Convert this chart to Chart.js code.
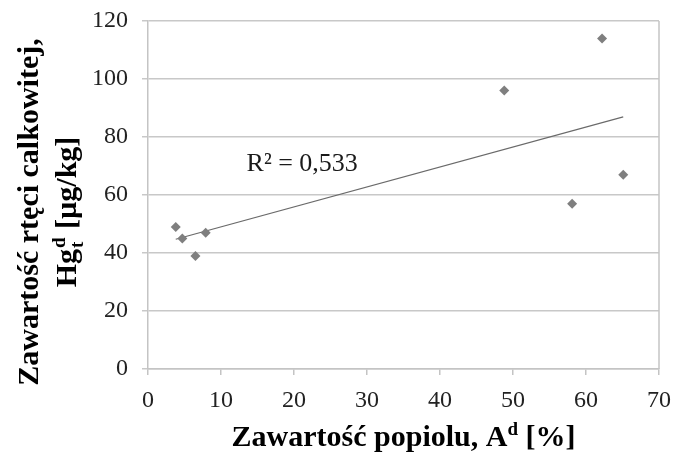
<!DOCTYPE html>
<html>
<head>
<meta charset="utf-8">
<script src="https://cdn.jsdelivr.net/npm/chart.js@4/dist/chart.umd.min.js"></script>
<style>
html,body{margin:0;padding:0;background:#fff;}
#wrap{width:674px;height:452px;position:relative;}
</style>
</head>
<body>
<div id="wrap"><canvas id="c" width="674" height="452"></canvas></div>
<script>
// Data
const ashContent = [3.8, 4.7, 6.5, 7.9, 48.8, 58.1, 62.2, 65.1];   // A^d [%]
const mercuryContent = [49, 45, 39, 47, 96, 57, 114, 67];           // Hg_t^d [µg/kg]
const xTickValues = [0, 10, 20, 30, 40, 50, 60, 70];
const yTickValues = [0, 20, 40, 60, 80, 100, 120];
const r2Label = 'R² = 0,533';
const r2LabelPos = [13.5, 70.8];

// Linear least-squares trendline over the data range
function linReg(xs, ys) {
  const n = xs.length;
  const mx = xs.reduce((a, b) => a + b, 0) / n;
  const my = ys.reduce((a, b) => a + b, 0) / n;
  let sxy = 0, sxx = 0;
  for (let i = 0; i < n; i++) { sxy += (xs[i] - mx) * (ys[i] - my); sxx += (xs[i] - mx) ** 2; }
  const b = sxy / sxx;
  return { b, a: my - b * mx };
}
const reg = linReg(ashContent, mercuryContent);
const xMin = Math.min(...ashContent), xMax = Math.max(...ashContent);
const trend = [{ x: xMin, y: reg.a + reg.b * xMin }, { x: xMax, y: reg.a + reg.b * xMax }];
const points = ashContent.map((x, i) => ({ x, y: mercuryContent[i] }));

const FONT = "'Liberation Serif', 'Times New Roman', serif";

function drawRich(ctx, segs, size, align) {
  const small = Math.round(size * 0.62);
  const wOf = (s) => { ctx.font = 'bold ' + (s.sub || s.sup ? small : size) + 'px ' + FONT; return ctx.measureText(s.t).width; };
  let total = 0;
  for (let i = 0; i < segs.length; i++) {
    const s = segs[i];
    if (s.sub && segs[i + 1] && segs[i + 1].sup) { total += Math.max(wOf(s), wOf(segs[i + 1])) + 2; i++; }
    else total += wOf(s);
  }
  let x = align === 'center' ? -total / 2 : 0;
  for (let i = 0; i < segs.length; i++) {
    const s = segs[i];
    if (s.sub && segs[i + 1] && segs[i + 1].sup) {
      const w1 = wOf(s), w2 = wOf(segs[i + 1]);
      ctx.font = 'bold ' + small + 'px ' + FONT;
      ctx.fillText(s.t, x + 1, size * 0.22);
      ctx.fillText(segs[i + 1].t, x + 1, -size * 0.38);
      x += Math.max(w1, w2) + 2; i++;
    } else if (s.sup) {
      ctx.font = 'bold ' + small + 'px ' + FONT;
      ctx.fillText(s.t, x, -size * 0.38); x += wOf(s);
    } else if (s.sub) {
      ctx.font = 'bold ' + small + 'px ' + FONT;
      ctx.fillText(s.t, x, size * 0.22); x += wOf(s);
    } else {
      ctx.font = 'bold ' + size + 'px ' + FONT;
      ctx.fillText(s.t, x, 0); x += wOf(s);
    }
  }
}

const extras = {
  id: 'extras',
  afterDraw(chart) {
    const { ctx, chartArea: ca, scales } = chart;
    ctx.save();
    ctx.strokeStyle = '#c4c4c4';
    ctx.lineWidth = 1.5;
    ctx.beginPath();
    ctx.moveTo(ca.right, ca.top);
    ctx.lineTo(ca.right, ca.bottom);
    ctx.stroke();
    ctx.fillStyle = '#1a1a1a';
    ctx.font = '26px ' + FONT;
    ctx.textAlign = 'left';
    ctx.textBaseline = 'middle';
    ctx.fillText(r2Label, scales.x.getPixelForValue(r2LabelPos[0]), scales.y.getPixelForValue(r2LabelPos[1]));
    ctx.fillStyle = '#000';
    ctx.textAlign = 'left';
    ctx.textBaseline = 'alphabetic';
    ctx.save();
    ctx.translate((ca.left + ca.right) / 2, 446);
    drawRich(ctx, [{ t: 'Zawartość popiolu, A' }, { t: 'd', sup: true }, { t: ' [%]' }], 30, 'center');
    ctx.restore();
    ctx.save();
    ctx.translate(38, 212);
    ctx.rotate(-Math.PI / 2);
    drawRich(ctx, [{ t: 'Zawartość rtęci calkowitej,' }], 30, 'center');
    ctx.restore();
    ctx.save();
    ctx.translate(76, 212);
    ctx.rotate(-Math.PI / 2);
    drawRich(ctx, [{ t: 'Hg' }, { t: 't', sub: true }, { t: 'd', sup: true }, { t: ' [µg/kg]' }], 30, 'center');
    ctx.restore();
    ctx.restore();
  }
};

new Chart(document.getElementById('c'), {
  type: 'scatter',
  data: {
    datasets: [
      {
        data: points,
        pointStyle: 'rectRot',
        pointRadius: 5,
        backgroundColor: '#7f7f7f',
        borderColor: '#7f7f7f',
        borderWidth: 0,
        order: 1
      },
      {
        type: 'line',
        data: trend,
        borderColor: '#6a6a6a',
        borderWidth: 1.2,
        pointRadius: 0,
        fill: false,
        order: 2
      }
    ]
  },
  options: {
    responsive: false,
    animation: false,
    events: [],
    layout: { padding: { top: 21, right: 15, left: 0, bottom: 0 } },
    plugins: { legend: { display: false }, tooltip: { enabled: false } },
    scales: {
      x: {
        type: 'linear',
        min: 0, max: 70,
        afterBuildTicks: (s) => { s.ticks = xTickValues.map(v => ({ value: v })); },
        afterFit: (s) => { s.height = 83; s.paddingLeft = 0; s.paddingRight = 0; },
        grid: { drawOnChartArea: false, drawTicks: true, tickLength: 6, color: '#c4c4c4', lineWidth: 1.5 },
        border: { color: '#c4c4c4', width: 1.5 },
        ticks: { color: '#222', font: { family: FONT, size: 24 }, padding: 11, maxRotation: 0 }
      },
      y: {
        type: 'linear',
        min: 0, max: 120,
        afterBuildTicks: (s) => { s.ticks = yTickValues.map(v => ({ value: v })); },
        afterFit: (s) => { s.width = 148; s.paddingTop = 0; s.paddingBottom = 0; },
        grid: { drawOnChartArea: true, drawTicks: true, tickLength: 6, color: '#c8c8c8', lineWidth: 1.5 },
        border: { color: '#c4c4c4', width: 1.5 },
        ticks: { color: '#222', font: { family: FONT, size: 24 }, padding: 14 }
      }
    }
  },
  plugins: [extras]
});
</script>
</body>
</html>
